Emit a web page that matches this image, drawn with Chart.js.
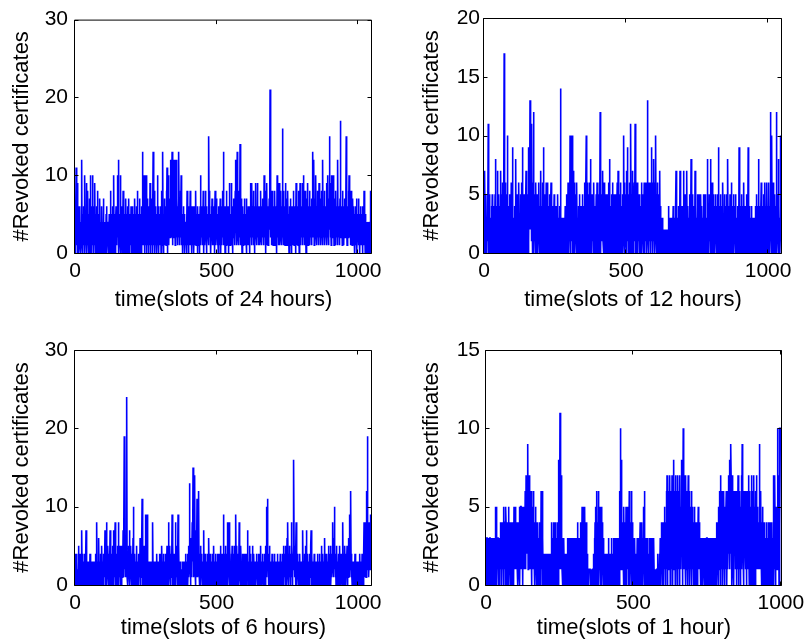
<!DOCTYPE html>
<html>
<head>
<meta charset="utf-8">
<title>Revoked certificates per time slot</title>
<script src="https://cdn.jsdelivr.net/npm/chart.js@4.4.1/dist/chart.umd.min.js"></script>
<style>
  html, body { margin: 0; padding: 0; background: #fff; overflow: hidden; }
  #fig { position: relative; width: 804px; height: 644px; overflow: hidden; }
  #fig canvas { position: absolute; }
</style>
</head>
<body>
<div id="fig">
  <canvas id="p24" width="402" height="322" style="left:0;top:0"></canvas>
  <canvas id="p12" width="402" height="322" style="left:402px;top:0"></canvas>
  <canvas id="p6" width="402" height="322" style="left:0;top:322px"></canvas>
  <canvas id="p1" width="430" height="322" style="left:402px;top:322px"></canvas>
</div>
<script>
// revoked certificates per slot, one array per slot length
const revoked24h = [
  2,6,0,3,11,1,5,2,9,0,4,6,1,3,0,5,2,6,1,3,0,4,2,7,12,1,5,0,3,2,6,1,4,2,0,10,3,1,5,2,9,0,3,6,1,8,2,4,0,5,
  1,3,7,0,2,10,4,1,6,0,3,2,10,1,5,0,4,2,6,1,9,3,0,5,1,4,2,6,0,3,8,1,4,0,2,5,1,3,7,0,2,4,1,3,0,6,2,1,4,0,
  3,7,1,2,0,4,1,3,2,0,5,1,6,0,2,3,1,4,0,2,1,5,3,0,2,8,1,4,0,3,5,2,0,6,1,3,4,10,0,2,5,1,3,0,4,6,2,1,5,3,
  10,2,4,1,12,0,3,5,1,2,10,0,4,2,6,1,3,0,5,2,8,1,3,6,0,4,2,5,1,3,7,0,4,2,5,1,6,3,0,2,7,1,3,0,5,2,4,1,6,0,
  2,4,6,1,3,0,5,2,1,4,0,7,3,1,5,2,0,4,6,1,8,2,3,0,5,1,4,2,7,0,3,5,1,4,0,6,2,3,1,13,2,4,10,1,5,0,10,3,2,6,
  1,10,3,0,4,2,7,1,5,3,0,6,2,4,1,9,3,0,5,2,4,1,7,2,0,3,13,1,5,2,3,8,0,4,2,6,1,3,5,0,2,4,10,1,6,3,0,5,2,4,
  1,5,2,6,0,4,3,8,1,2,13,3,5,0,4,2,7,1,6,3,2,5,1,8,4,11,0,3,6,2,10,4,1,5,3,7,2,6,12,3,5,2,8,13,4,1,6,3,12,5,
  2,12,4,6,1,8,3,12,5,2,7,4,1,6,3,9,2,13,4,5,1,6,3,8,2,10,4,1,5,3,0,4,2,6,1,3,5,2,0,4,3,1,4,2,0,3,8,1,4,2,
  5,0,6,3,1,4,2,8,3,1,4,6,2,0,5,3,1,6,2,4,0,3,5,1,6,2,4,8,1,3,2,5,0,4,6,1,3,2,5,0,4,2,6,10,3,1,5,2,4,6,
  1,4,2,8,3,0,5,2,6,1,3,8,2,4,0,6,1,3,5,2,4,1,6,15,3,8,2,5,1,4,0,3,6,2,7,1,4,2,5,3,1,6,3,0,4,8,2,5,1,3,
  7,2,4,1,5,3,0,6,2,4,1,5,3,7,2,0,4,6,1,3,5,2,8,4,13,1,3,6,2,5,0,4,2,6,1,8,3,5,2,4,1,6,3,0,5,2,9,4,1,3,
  5,2,9,1,4,3,6,0,5,2,7,3,4,1,6,2,8,3,12,4,2,5,1,13,3,6,2,4,8,1,5,3,2,14,4,1,6,2,7,3,0,4,2,6,1,3,5,2,7,1,
  3,5,1,4,2,7,0,3,5,1,4,2,6,1,3,5,2,0,4,6,9,2,5,1,4,9,3,6,2,5,1,8,3,4,0,6,2,5,3,9,2,4,1,6,3,9,2,5,1,4,
  6,2,4,1,5,3,8,2,4,6,1,5,3,7,2,6,4,1,10,3,5,2,6,0,4,8,3,1,9,2,4,6,1,3,5,2,7,3,4,21,2,5,3,8,1,6,2,4,8,3,
  1,4,6,2,5,3,8,1,4,2,6,3,5,0,10,2,4,6,1,3,5,9,2,4,1,6,3,8,2,5,3,1,6,16,2,4,8,1,5,3,2,6,1,9,4,2,5,3,7,1,
  4,2,8,1,5,3,0,6,2,4,1,7,3,5,2,0,4,6,1,3,5,2,8,3,1,4,6,2,5,0,3,9,1,4,2,6,3,5,1,8,2,4,0,6,3,9,1,5,2,4,
  6,2,5,1,9,3,4,10,2,5,1,6,3,8,2,4,0,5,3,7,2,5,9,1,4,6,2,3,8,1,5,3,6,2,4,1,7,3,5,2,13,4,2,6,12,1,5,3,7,2,
  4,10,2,6,1,5,3,8,2,4,6,1,9,3,5,2,4,7,1,3,5,2,8,4,1,12,3,6,2,5,3,8,1,4,6,2,5,3,9,1,4,6,2,10,3,5,1,4,7,15,
  3,6,2,9,4,1,5,10,2,6,4,2,10,3,5,1,7,2,4,6,1,8,3,5,2,6,4,1,12,3,5,2,6,4,1,3,7,2,17,4,2,6,3,5,1,8,2,4,6,3,
  1,5,3,7,2,4,6,3,15,2,4,1,6,3,5,2,8,4,10,3,5,2,6,1,4,8,3,2,5,1,4,7,2,3,1,6,2,4,0,5,3,6,1,4,2,7,0,3,5,2,
  4,1,7,3,2,5,0,4,1,6,3,2,5,1,4,0,3,6,2,5,1,8,3,2,4,0,5,2,3,1,4,2,0,3,4,1,3,2,4,0,3,1,4,2,8,0,3,1,4,8
];

const revoked12h = [
  4,0,2,7,1,3,0,5,2,1,0,3,5,1,2,11,0,4,1,2,5,0,1,3,0,2,4,1,0,5,2,0,1,4,0,3,1,0,2,5,1,8,0,2,4,1,0,3,7,1,
  0,2,5,1,3,0,4,2,0,7,1,3,0,5,2,0,6,1,3,0,2,17,0,4,1,6,0,3,2,5,0,1,6,10,2,0,4,1,3,0,5,2,0,1,3,0,6,2,1,0,
  9,1,0,3,1,0,2,0,1,4,0,2,8,1,0,3,1,5,0,2,1,4,0,6,2,0,3,1,0,5,2,0,6,1,3,0,9,2,0,4,1,5,0,2,3,1,0,4,7,1,
  3,0,2,5,1,0,9,3,1,6,2,4,13,3,5,2,6,1,11,4,0,3,6,1,2,12,0,3,5,1,4,0,2,6,1,3,0,5,2,1,0,3,1,6,2,0,4,1,3,6,
  7,0,2,4,1,0,3,6,1,9,2,0,5,1,3,0,2,4,0,6,1,3,0,2,6,1,0,4,2,0,3,1,5,0,2,4,6,1,0,3,2,0,4,1,3,0,2,5,1,0,
  3,1,0,2,4,0,1,3,0,2,5,1,0,3,2,0,4,1,3,0,14,2,0,3,1,0,2,1,0,3,1,0,2,3,0,1,4,0,2,1,3,0,5,1,0,2,6,1,3,0,
  2,4,1,10,0,3,6,2,1,5,10,0,3,1,7,2,0,4,1,6,0,2,5,1,3,0,2,6,1,0,3,1,0,4,2,0,5,1,0,3,2,0,4,1,3,0,5,2,0,1,
  3,0,4,1,6,2,0,3,1,5,10,2,0,4,1,6,3,0,2,5,1,0,3,6,2,8,0,4,1,3,0,5,2,1,4,0,3,6,1,0,2,4,0,3,1,5,0,2,6,1,
  3,0,5,1,4,0,2,6,1,12,3,0,4,2,1,5,2,3,7,1,0,4,2,6,1,0,3,5,0,2,1,4,0,5,2,1,3,0,6,1,2,5,8,0,3,1,4,2,0,5,
  1,3,0,6,2,0,4,1,5,0,3,1,5,0,2,4,1,0,3,6,1,0,7,2,4,1,0,5,2,3,0,6,1,3,0,4,2,5,0,1,4,2,10,1,6,3,0,4,2,5,
  1,3,0,7,2,9,1,4,0,3,5,1,6,2,0,4,3,11,1,5,2,0,7,3,1,5,2,0,4,6,1,3,11,0,5,2,4,1,6,0,6,2,0,4,1,3,5,0,2,1,
  4,0,3,1,6,6,0,2,5,1,3,0,4,2,6,1,0,5,2,4,1,6,3,0,5,13,2,4,1,6,0,3,5,2,1,6,3,0,4,2,9,1,5,2,0,6,3,1,8,2,
  4,0,6,2,3,10,1,5,0,3,2,6,1,0,4,2,5,1,3,7,0,2,4,1,3,0,2,1,0,3,1,0,2,0,1,0,1,1,2,1,0,1,0,2,1,0,1,0,2,4,
  1,0,2,1,0,3,1,0,2,1,0,3,1,2,0,1,4,0,2,1,3,0,1,2,0,4,7,1,0,2,1,3,0,2,1,0,4,1,2,0,7,1,0,3,2,0,1,4,0,2,
  1,0,7,2,0,3,1,0,5,2,0,1,3,0,7,1,2,0,4,1,0,3,1,2,0,5,1,0,2,8,1,0,3,2,5,0,1,4,0,2,3,1,0,7,2,0,4,1,3,0,
  2,5,0,1,3,0,4,5,1,0,3,1,0,5,2,0,1,4,0,3,2,0,5,1,3,0,2,1,5,0,4,1,0,3,2,1,5,8,0,3,1,4,0,5,2,1,3,8,0,2,
  1,4,0,6,2,0,3,1,5,0,2,4,1,0,3,5,1,2,0,4,1,3,0,5,2,1,9,0,3,1,4,0,2,5,1,3,0,2,4,1,0,6,2,1,3,0,5,1,2,0,
  4,1,3,0,2,5,1,0,8,2,3,0,4,1,2,0,5,1,3,0,2,6,0,1,4,2,0,3,1,5,0,2,4,1,3,0,5,2,1,0,3,1,0,4,2,1,3,0,9,2,
  0,3,1,4,0,2,5,1,0,3,2,0,4,1,3,6,0,2,1,4,0,3,1,2,5,0,1,3,2,0,9,1,0,3,2,4,0,1,3,0,2,4,1,0,3,1,2,0,1,2,
  0,3,1,2,0,4,1,3,0,2,5,0,3,1,4,2,0,8,1,3,0,2,4,1,0,3,6,2,0,1,3,0,4,2,1,5,0,3,1,6,2,0,4,1,3,0,6,2,1,4,
  0,3,2,6,1,4,0,2,5,12,1,3,0,10,2,4,1,0,6,3,0,4,2,1,5,0,3,1,4,2,12,0,3,1,5,2,8,0,4,1,3,0,2,5,10,1,3,0,10,4
];

const revoked6h = [
  0,4,1,2,0,4,1,3,0,2,1,0,5,2,0,3,1,0,4,2,0,1,3,0,7,2,1,4,0,2,1,3,0,2,4,1,0,2,3,7,1,0,2,3,1,0,3,2,1,0,
  2,3,0,4,1,2,0,3,1,0,2,0,3,1,0,2,3,1,0,2,3,1,0,2,4,1,3,8,0,2,1,3,0,2,6,1,0,3,1,2,0,4,1,2,0,5,1,3,0,2,
  1,0,4,2,1,3,7,0,2,4,1,3,8,0,2,1,5,3,0,4,2,1,0,3,7,1,2,0,4,1,3,0,5,2,1,4,7,0,3,1,2,5,8,1,0,3,4,1,2,0,
  5,1,3,2,8,0,4,1,2,5,0,3,1,4,2,0,5,1,3,2,7,3,1,5,19,2,19,4,1,6,3,2,5,24,1,4,2,0,3,5,1,2,4,7,0,3,1,5,2,0,
  3,1,4,0,2,6,1,10,3,0,2,4,1,0,3,1,2,4,5,0,1,3,0,2,4,1,0,3,2,1,6,0,2,4,1,3,5,11,2,0,4,1,3,0,5,2,1,4,0,9,
  2,1,3,0,4,9,1,2,0,3,1,0,2,1,0,3,1,0,2,1,0,3,1,2,4,8,0,1,3,0,2,1,0,3,1,0,2,1,3,4,0,2,1,0,3,1,2,0,4,1,
  3,0,2,1,4,0,3,5,1,2,0,3,1,4,2,0,3,1,0,2,4,1,3,0,2,5,1,3,0,4,2,8,0,3,1,5,2,4,0,3,1,4,2,9,0,3,5,1,2,4,
  0,3,1,4,2,8,0,3,5,1,2,4,0,3,9,1,2,5,0,3,1,2,0,3,1,0,2,1,0,3,2,0,1,3,0,1,2,0,3,1,4,0,2,1,3,0,1,2,4,0,
  3,5,1,2,6,13,2,4,0,3,6,1,4,2,8,3,5,15,2,6,1,4,3,14,2,5,0,7,3,1,4,11,2,6,1,3,5,12,2,0,4,1,3,5,2,0,4,1,3,2,
  0,3,1,2,4,7,0,3,1,2,4,0,2,3,1,0,3,2,4,1,0,2,3,6,1,0,2,4,1,3,0,1,3,2,0,4,1,2,0,3,5,1,0,2,3,1,0,4,2,0,
  3,1,2,0,4,1,3,0,2,4,1,0,3,2,5,0,1,3,0,2,4,1,3,0,9,2,1,4,0,3,2,5,1,3,0,4,2,1,8,3,0,2,4,1,8,3,0,5,2,1,
  3,0,4,2,1,5,0,3,2,4,1,3,0,2,5,1,4,0,9,2,3,1,5,0,2,4,1,3,2,0,8,2,4,1,3,0,5,2,1,3,0,4,2,1,3,0,2,4,1,3,
  2,0,3,1,4,2,0,3,1,7,2,4,0,3,1,2,5,0,3,1,4,2,0,3,1,2,0,5,1,3,0,2,4,1,3,0,2,1,3,0,2,4,1,3,0,2,3,1,0,4,
  1,3,0,2,4,1,5,0,3,2,0,3,1,4,2,0,3,1,2,4,1,3,0,5,2,4,10,3,1,5,11,2,4,0,3,1,2,5,0,3,1,0,2,3,1,0,4,2,1,0,
  3,1,0,2,4,0,1,3,2,0,2,1,3,0,2,4,1,0,3,1,0,2,1,3,0,4,1,2,0,3,1,3,0,4,2,1,5,0,3,2,4,1,3,0,5,2,1,4,0,6,
  3,2,8,1,4,0,3,5,2,1,4,0,3,2,8,1,5,3,0,4,2,6,3,16,4,1,5,2,3,0,4,8,1,3,0,2,4,1,3,0,2,1,3,0,4,1,2,0,3,1,
  0,3,2,1,4,7,0,3,1,2,4,0,2,3,1,5,0,7,2,1,3,0,4,1,2,0,3,1,4,0,2,1,3,5,7,0,2,4,1,3,0,2,1,3,0,4,1,2,0,3,
  1,0,2,3,0,1,4,2,0,1,3,0,2,1,4,0,3,1,2,0,5,1,3,0,2,4,1,0,3,2,1,3,6,0,2,4,1,3,0,2,4,1,0,3,2,5,1,3,0,2,
  4,1,3,5,0,2,4,1,3,2,5,8,2,4,1,6,3,10,2,4,1,3,0,5,2,4,1,3,0,2,4,1,3,0,2,5,1,3,4,0,2,3,1,4,0,3,8,2,1,4,
  3,0,2,5,1,3,4,0,2,1,3,5,0,2,4,1,3,6,2,9,1,4,2,5,12,3,1,4,2,0,3,1,2,0,3,1,0,2,1,4,0,2,1,3,0,1,2,0,3,1,
  2,0,3,1,2,0,4,1,3,0,2,3,1,0,4,2,1,3,0,2,4,8,1,3,5,2,8,4,1,12,3,6,2,19,4,8,2,5,1,3,6,8,2,4,9,3,5,8,2,9
];

const revoked1h = [
  2,3,0,3,3,1,3,0,2,3,3,0,1,3,3,2,0,3,1,3,3,0,2,3,1,3,0,3,2,1,3,0,5,3,1,5,2,0,3,1,3,3,0,2,3,1,0,3,2,4,
  1,4,4,0,3,4,1,4,2,5,0,4,4,1,3,4,0,5,4,1,4,2,0,4,3,1,5,4,0,2,4,1,3,4,0,2,4,3,1,0,2,4,1,3,0,5,4,1,2,3,
  5,1,4,2,4,3,1,4,0,2,4,3,1,5,2,0,4,1,5,5,2,5,1,3,5,0,5,2,1,4,5,2,1,6,3,1,7,2,5,4,7,2,9,1,7,3,6,2,7,1,
  4,6,1,3,6,0,4,2,5,1,3,6,1,2,4,0,3,1,5,2,1,4,0,3,1,2,4,0,2,1,3,0,2,4,1,3,0,6,1,2,6,0,1,3,0,2,1,0,2,1,
  0,2,1,2,0,1,2,0,1,2,2,0,1,2,1,0,2,2,0,1,2,0,1,4,0,2,1,3,0,4,1,2,0,3,1,4,0,2,1,3,0,2,4,1,3,0,8,2,4,1,
  3,11,2,8,1,3,7,2,1,3,0,2,1,0,3,1,0,2,1,0,1,0,2,1,0,1,3,0,1,2,0,1,3,0,1,2,0,1,0,3,1,0,2,1,3,0,1,3,0,2,
  1,0,3,1,2,0,3,1,0,3,1,4,0,2,3,1,0,3,2,1,4,1,2,0,3,1,5,2,0,4,1,5,2,0,3,5,1,4,0,3,1,4,0,2,1,0,1,1,0,1,
  1,1,1,1,0,1,0,1,1,0,1,0,1,1,0,2,1,0,3,1,4,0,2,5,1,3,6,0,4,2,1,6,3,0,4,1,5,2,0,4,2,5,1,0,3,4,1,2,0,3,
  1,0,2,1,0,2,1,0,2,1,0,1,2,0,1,3,0,2,1,0,2,0,1,2,0,1,3,0,2,0,1,2,0,3,1,0,2,1,3,0,2,1,0,3,2,0,1,3,0,2,
  1,3,0,2,6,1,10,3,8,2,5,3,1,2,4,2,0,3,5,1,2,4,0,3,1,5,2,0,3,4,1,2,5,0,3,1,6,2,0,4,3,1,2,6,0,3,1,4,2,0,
  3,1,2,0,1,3,0,2,1,0,2,1,0,3,1,0,2,1,0,3,1,0,2,4,0,3,1,2,0,4,1,3,0,2,5,1,3,6,0,2,1,3,0,1,2,0,1,3,0,1,
  2,1,0,1,3,0,2,1,0,3,1,0,2,1,3,0,1,2,0,3,1,0,1,1,0,1,1,0,1,0,1,1,0,2,1,0,1,0,2,1,0,3,1,0,2,4,1,3,0,2,
  4,1,3,0,4,2,5,1,3,0,4,2,6,1,7,3,0,7,2,4,6,1,5,3,7,0,4,6,2,5,1,7,3,4,0,6,2,8,1,5,3,6,0,7,2,5,1,6,3,0,
  4,7,2,5,1,6,0,3,7,2,5,1,4,8,3,6,0,5,2,10,4,1,7,3,6,2,0,5,7,1,4,6,2,0,5,3,7,1,4,2,6,0,3,5,1,4,2,6,0,3,
  5,1,2,4,0,3,1,5,2,0,4,1,3,0,2,4,1,3,0,2,5,1,3,2,4,1,2,3,1,0,3,0,2,3,1,3,0,3,2,3,1,3,0,3,3,1,3,0,2,3,
  3,1,3,0,3,2,3,1,3,0,2,3,1,3,0,3,2,1,3,0,3,1,2,3,0,3,1,2,0,3,1,2,4,0,3,1,4,2,0,5,3,1,6,2,4,0,7,3,5,1,
  4,6,2,0,5,3,1,6,2,4,0,5,3,1,4,6,2,0,3,5,1,6,4,2,7,3,8,1,5,9,2,9,6,3,0,7,2,5,1,6,3,0,5,2,4,6,1,3,5,0,
  4,2,6,1,3,7,0,5,2,4,1,6,3,0,5,2,7,4,1,9,3,5,2,0,6,1,4,6,2,3,6,1,4,0,5,2,6,3,1,5,2,7,3,0,6,1,5,2,4,0,
  7,2,5,1,3,6,0,4,2,7,1,5,3,0,6,2,4,1,7,3,5,1,2,4,1,3,2,1,9,3,5,1,6,2,0,4,1,3,5,2,0,3,1,4,2,0,3,1,2,0,
  3,1,4,0,2,3,1,0,2,4,1,3,0,2,4,1,0,3,1,2,4,0,2,1,3,7,0,4,2,1,7,3,0,2,5,1,4,2,1,10,3,7,1,5,0,7,2,10,10,10,
  10,10,10,10,2
];

// axis limits and tick positions, same order as the arrays above
const yMax = [30, 20, 30, 15];
const yStep = [10, 5, 10, 5];
const xMax = [1049, 1049, 1049, 1004];
const xTicks = [0, 500, 1000];
const xTitles = ['time(slots of 24 hours)', 'time(slots of 12 hours)', 'time(slots of 6 hours)', 'time(slots of 1 hour)'];
const yTitle = '#Revoked certificates';

const fontFamily = '"Liberation Sans", Arial, Helvetica, sans-serif';
const tickFont = { family: fontFamily, size: 21 };
const titleFont = { family: fontFamily, size: 22 };

// plot frame plus short inward tick marks on all four sides
const axesBox = {
  id: 'axesBox',
  afterDatasetsDraw(chart) {
    const { ctx, chartArea: a, scales: { x, y } } = chart;
    const L = a.left - 0.5, R = a.right - 0.5, T = a.top + 0.5, B = a.bottom + 0.5;
    ctx.save();
    ctx.strokeStyle = '#000';
    ctx.lineWidth = 1;
    ctx.beginPath();
    ctx.rect(L, T, R - L, B - T);
    x.ticks.forEach(t => {
      const px = Math.round(x.getPixelForValue(t.value)) - 0.5;
      ctx.moveTo(px, B); ctx.lineTo(px, B - 4);
      ctx.moveTo(px, T); ctx.lineTo(px, T + 4);
    });
    y.ticks.forEach(t => {
      const py = Math.round(y.getPixelForValue(t.value)) + 0.5;
      ctx.moveTo(L, py); ctx.lineTo(L + 4, py);
      ctx.moveTo(R, py); ctx.lineTo(R - 4, py);
    });
    ctx.stroke();
    ctx.restore();
  }
};

function drawPanel(id, values, k, box) {
  const slots = values.map((v, i) => i);
  return new Chart(document.getElementById(id), {
    type: 'line',
    data: {
      labels: slots,
      datasets: [{
        data: values,
        borderColor: '#0000ff',
        borderWidth: 1.6,
        pointRadius: 0,
        fill: false,
        tension: 0
      }]
    },
    options: {
      responsive: false,
      animation: false,
      events: [],
      layout: {
        autoPadding: false,
        padding: { left: 0, top: box.top, right: box.right, bottom: 0 }
      },
      plugins: { legend: { display: false }, tooltip: { enabled: false } },
      scales: {
        x: {
          type: 'linear',
          min: 0,
          max: xMax[k],
          grid: { display: false, drawTicks: false },
          border: { display: false },
          afterBuildTicks: s => { s.ticks = xTicks.map(v => ({ value: v })); },
          ticks: {
            autoSkip: false,
            maxRotation: 0,
            padding: 6,
            color: '#000',
            font: tickFont,
            callback: v => String(v)
          },
          title: {
            display: true,
            text: xTitles[k],
            color: '#000',
            font: titleFont,
            padding: { top: 0, bottom: box.xTitlePad }
          },
          afterFit: s => { s.height = box.xHeight; }
        },
        y: {
          min: 0,
          max: yMax[k],
          grid: { display: false, drawTicks: false },
          border: { display: false },
          ticks: {
            stepSize: yStep[k],
            padding: box.yTickPad,
            color: '#000',
            font: tickFont
          },
          title: {
            display: true,
            text: yTitle,
            color: '#000',
            font: titleFont,
            padding: { top: box.yTitlePad, bottom: 0 }
          },
          afterFit: s => { s.width = box.yWidth; }
        }
      }
    },
    plugins: [axesBox]
  });
}

drawPanel('p24', revoked24h, 0, { top: 18, right: 30, yWidth: 75, xHeight: 69, yTickPad: 7, yTitlePad: 9, xTitlePad: 9 });
drawPanel('p12', revoked12h, 1, { top: 18, right: 22, yWidth: 82, xHeight: 69, yTickPad: 4, yTitlePad: 17, xTitlePad: 9 });
drawPanel('p6', revoked6h, 2, { top: 28, right: 30, yWidth: 75, xHeight: 59, yTickPad: 7, yTitlePad: 9, xTitlePad: 3 });
drawPanel('p1', revoked1h, 3, { top: 28, right: 50, yWidth: 84, xHeight: 59, yTickPad: 6, yTitlePad: 17, xTitlePad: 3 });
</script>
</body>
</html>
